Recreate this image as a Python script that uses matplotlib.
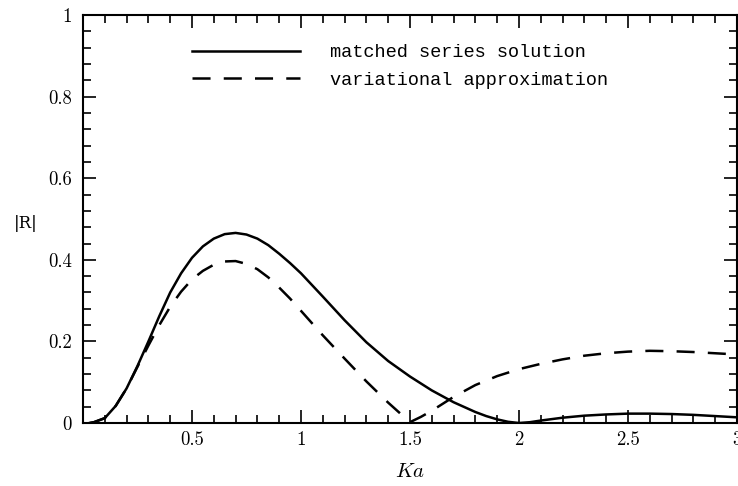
"""
Reflection coefficient |R| against Ka: matched series solution vs
variational approximation.
"""

import matplotlib

matplotlib.use("Agg")
import matplotlib.pyplot as plt
from matplotlib.ticker import MultipleLocator

# Values
ka = [0.03, 0.05, 0.1, 0.15, 0.2, 0.25, 0.3, 0.35, 0.4, 0.45, 0.5, 0.55,
      0.6, 0.65, 0.7, 0.75, 0.8, 0.85, 0.9, 0.95, 1.0, 1.1, 1.2, 1.3, 1.4,
      1.5, 1.6, 1.7, 1.8, 1.85, 1.9, 1.95, 2.0, 2.05, 2.1, 2.2, 2.3, 2.4,
      2.5, 2.6, 2.7, 2.8, 2.9, 3.0]
r_matched = [0.0, 0.002, 0.012, 0.042, 0.085, 0.14, 0.2, 0.262, 0.32,
             0.367, 0.405, 0.433, 0.452, 0.463, 0.466, 0.462, 0.452, 0.436,
             0.415, 0.392, 0.367, 0.31, 0.252, 0.198, 0.152, 0.114, 0.08,
             0.051, 0.027, 0.017, 0.009, 0.003, 0.0, 0.002, 0.006, 0.013,
             0.018, 0.021, 0.023, 0.023, 0.022, 0.02, 0.017, 0.014]

ka_var = [0.03, 0.05, 0.1, 0.15, 0.2, 0.25, 0.3, 0.35, 0.4, 0.45, 0.5, 0.55,
          0.6, 0.65, 0.7, 0.75, 0.8, 0.85, 0.9, 0.95, 1.0, 1.1, 1.2, 1.3,
          1.4, 1.5, 1.55, 1.6, 1.7, 1.8, 1.9, 2.0, 2.1, 2.2, 2.3, 2.4, 2.5,
          2.6, 2.7, 2.8, 2.9, 3.0]
r_variational = [0.0, 0.002, 0.012, 0.042, 0.085, 0.138, 0.19, 0.24, 0.285,
                 0.322, 0.352, 0.373, 0.388, 0.396, 0.397, 0.39, 0.377,
                 0.357, 0.332, 0.305, 0.275, 0.215, 0.158, 0.102, 0.05,
                 0.002, 0.015, 0.03, 0.064, 0.093, 0.115, 0.132, 0.145,
                 0.156, 0.165, 0.171, 0.175, 0.177, 0.176, 0.174, 0.171,
                 0.168]

labels = ["matched series solution", "variational approximation"]

plt.rcParams["mathtext.fontset"] = "cm"
plt.rcParams["lines.scale_dashes"] = False
plt.rcParams["axes.unicode_minus"] = False

fig = plt.figure(figsize=(7.38, 4.86), dpi=100)
ax = fig.add_axes([0.1125, 0.1296, 0.886, 0.8394])

ax.plot(ka, r_matched, color="black", lw=1.8, label=labels[0])
ax.plot(ka_var, r_variational, color="black", lw=1.8, dashes=(13, 9.5),
        label=labels[1])

ax.set_xlim(0, 3)
ax.set_ylim(0, 1)
ax.xaxis.set_minor_locator(MultipleLocator(0.1))
ax.yaxis.set_minor_locator(MultipleLocator(0.04))
ax.set_xticks([0.5, 1, 1.5, 2, 2.5, 3])
ax.set_xticklabels(["0.5", "1", "1.5", "2", "2.5", "3"])
ax.set_yticks([0, 0.2, 0.4, 0.6, 0.8, 1])
ax.set_yticklabels(["0", "0.2", "0.4", "0.6", "0.8", "1"])

ax.tick_params(which="both", direction="in", top=True, right=True,
               colors="black", width=1.2)
ax.tick_params(which="major", length=9.5)
ax.tick_params(which="minor", length=6)
ax.tick_params(axis="y", pad=8)
ax.tick_params(axis="x", pad=6)
for lab in ax.get_xticklabels() + ax.get_yticklabels():
    lab.set_fontfamily("cmr10")
    lab.set_fontsize(13.5)
for sp in ax.spines.values():
    sp.set_linewidth(1.5)

ax.set_ylabel("|R|", rotation=0, fontfamily="DejaVu Serif", fontsize=12,
              va="center", ha="center")
ax.yaxis.set_label_coords(-0.088, 0.49)
ax.set_xlabel("$Ka$", fontsize=15)
ax.xaxis.set_label_coords(0.5, -0.094)

ax.legend(loc="upper left", bbox_to_anchor=(0.167, 0.928), frameon=False,
          prop={"family": "Liberation Mono", "size": 13.4},
          handlelength=5.8, handletextpad=1.6, borderpad=0,
          borderaxespad=0, labelspacing=0.55)

fig.savefig("out.png", dpi=100)
